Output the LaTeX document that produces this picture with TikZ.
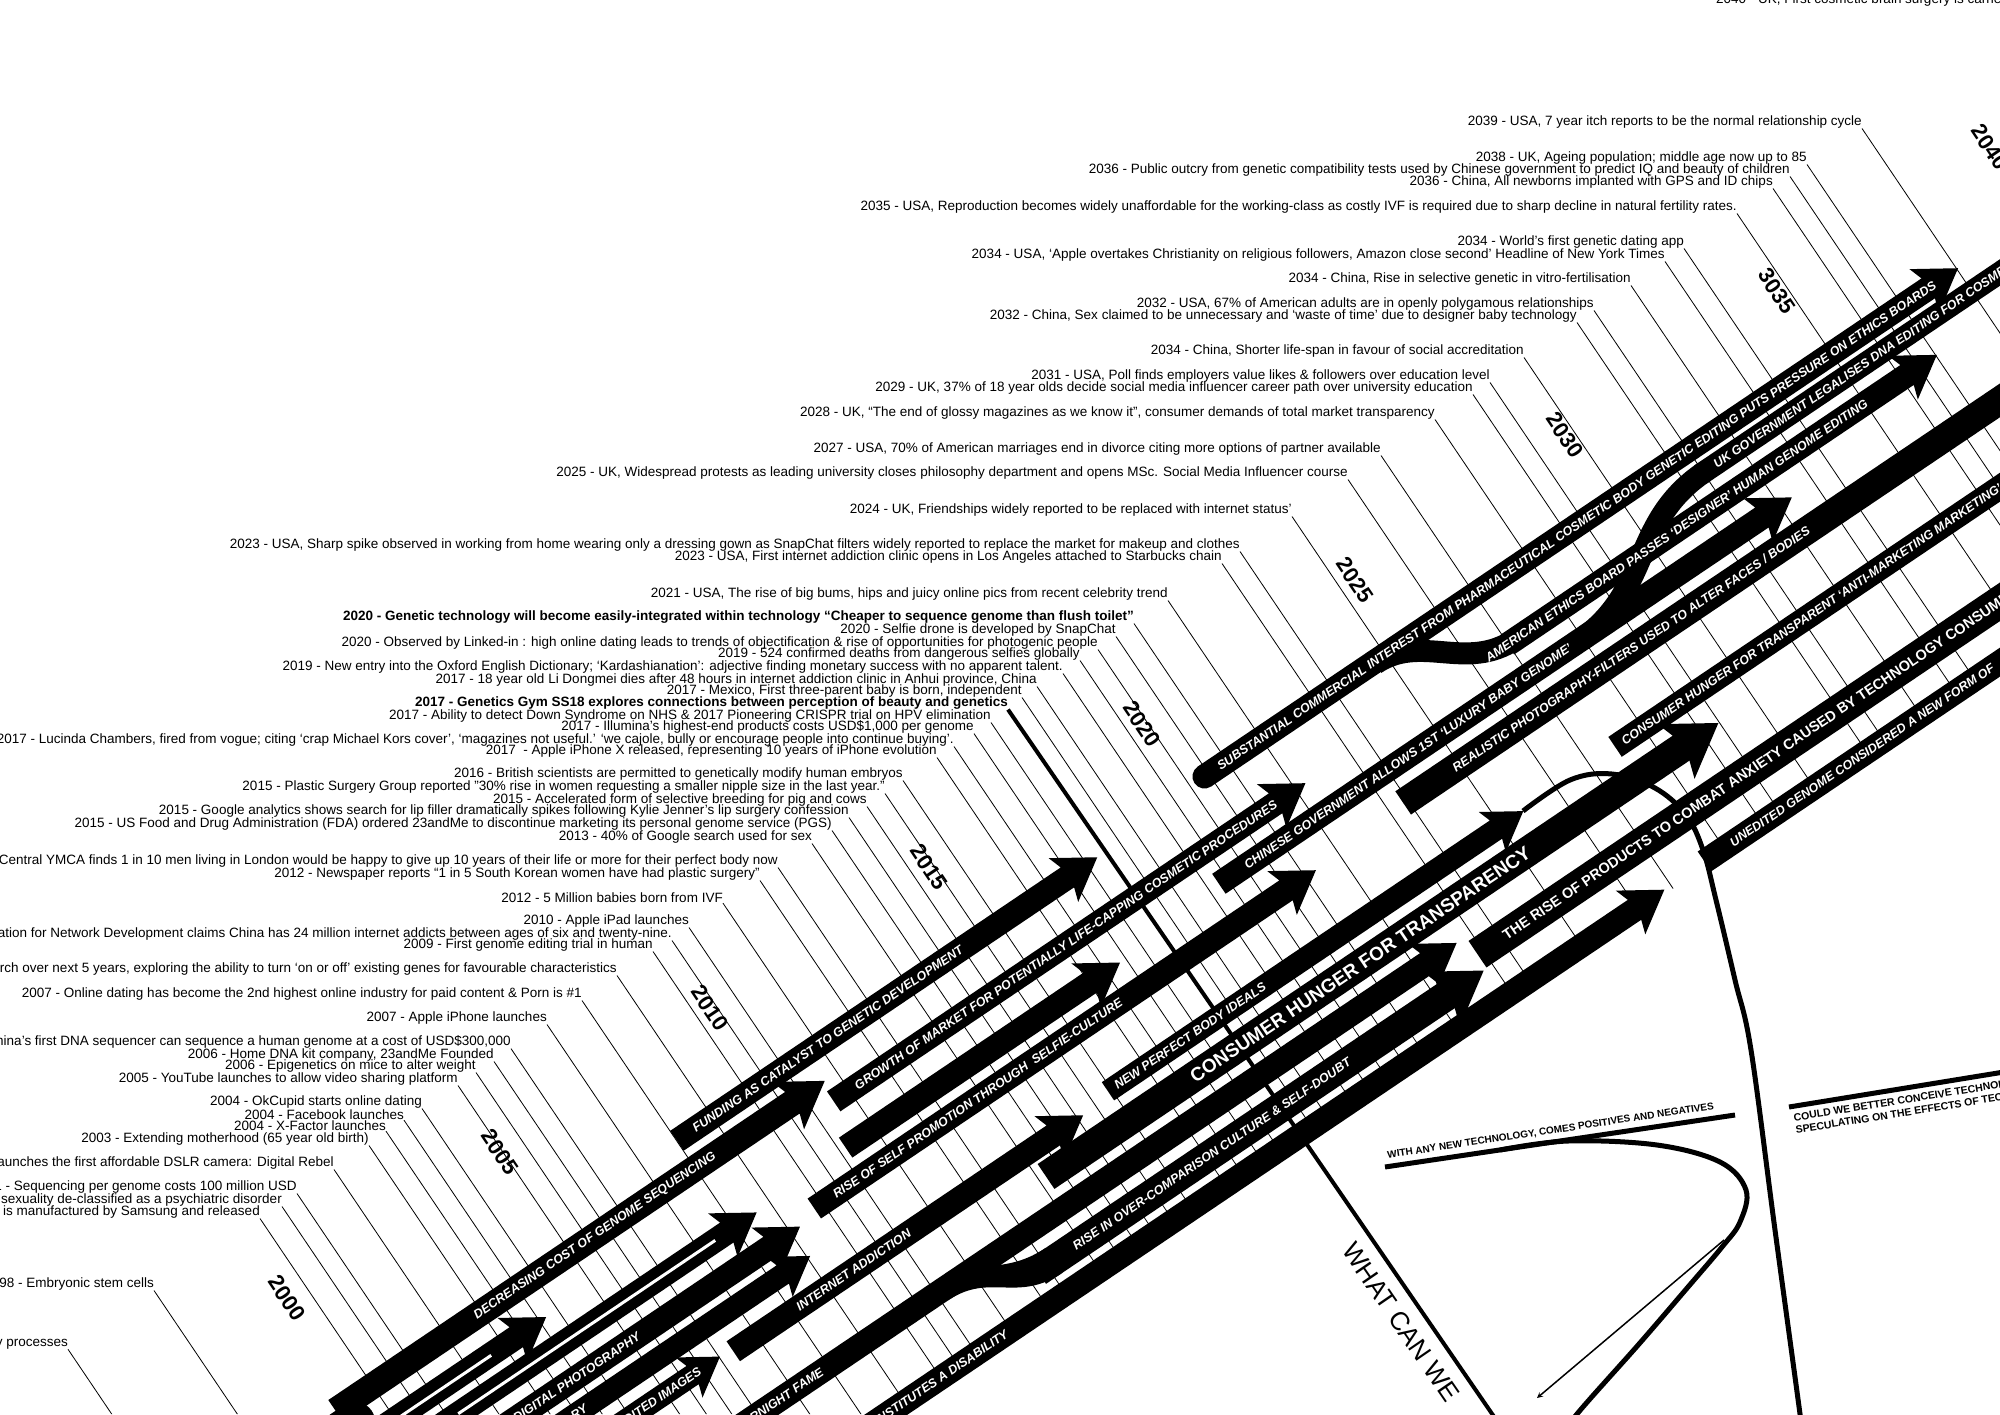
\documentclass[tikz,border=0pt]{standalone}
\usepackage{fontspec}
\setmainfont{Liberation Sans}
\usetikzlibrary{arrows}

% band with arrow head: start, tip, lane, half width
\newcommand{\bandarrow}[4]{%
  \fill (#1,{#3-#4}) -- ({#2-3*#4},{#3-#4}) -- ({#2-3.4*#4},{#3-2.2*#4}) -- (#2,#3)
     -- ({#2-3.4*#4},{#3+2.2*#4}) -- ({#2-3*#4},{#3+#4}) -- (#1,{#3+#4}) -- cycle;}
% plain band: start, end, lane, half width
\newcommand{\bandbar}[4]{\fill (#1,{#3-#4}) rectangle (#2,{#3+#4});}

\begin{document}
\begin{tikzpicture}[x=1pt, y=1pt,
  ev/.style={anchor=east, inner sep=0pt, font=\fontsize{13.5}{14}\selectfont},
  evb/.style={ev, font=\bfseries\fontsize{13.5}{14}\selectfont},
  lead/.style={line width=0.8pt},
  yr/.style={rotate=-56, inner sep=0pt, font=\bfseries\fontsize{22}{22}\selectfont},
  blab/.style={transform shape, text=white, inner sep=0pt, font=\bfseries\itshape\fontsize{12.5}{12.5}\selectfont},
  midblab/.style={blab, font=\bfseries\fontsize{14.5}{14.5}\selectfont},
  bigblab/.style={blab, font=\bfseries\fontsize{19}{19}\selectfont},
  stripe/.style={white, line width=3},
  caps/.style={inner sep=0pt, font=\bfseries\fontsize{10.5}{12.5}\selectfont}]
\path[use as bounding box, fill=white] (0,-1414) rectangle (2000,0);

\node[ev, anchor=base west] (ev00) at (1716,-3) {2040 - UK, First cosmetic brain surgery is carried out};

% timeline of events
\begin{scope}
\clip (0,0) -- (2000,0) -- (2000,-668) -- (894,-1414) -- (0,-1414) -- cycle;
\node[ev] (ev01) at (1862,-122) {2039 - USA, 7 year itch reports to be the normal relationship cycle};
\draw[lead] (ev01.south east) -- ++(-56:1500);
\node[ev] (ev02) at (1807,-158) {2038 - UK, Ageing population; middle age now up to 85};
\draw[lead] (ev02.south east) -- ++(-56:1500);
\node[ev] (ev03) at (1790,-170) {2036 - Public outcry from genetic compatibility tests used by Chinese government to predict IQ and beauty of children};
\draw[lead] (ev03.south east) -- ++(-56:1500);
\node[ev] (ev04) at (1773,-182) {2036 - China, All newborns implanted with GPS and ID chips};
\draw[lead] (ev04.south east) -- ++(-56:1500);
\node[ev] (ev05) at (1737,-207) {2035 - USA, Reproduction becomes widely unaffordable for the working-class as costly IVF is required due to sharp decline in natural fertility rates.};
\draw[lead] (ev05.south east) -- ++(-56:1500);
\node[ev] (ev06) at (1684,-242) {2034 - World’s first genetic dating app};
\draw[lead] (ev06.south east) -- ++(-56:1500);
\node[ev] (ev07) at (1665,-255) {2034 - USA, ‘Apple overtakes Christianity on religious followers, Amazon close second’ Headline of New York Times};
\draw[lead] (ev07.south east) -- ++(-56:1500);
\node[ev] (ev08) at (1631,-279) {2034 - China, Rise in selective genetic in vitro-fertilisation};
\draw[lead] (ev08.south east) -- ++(-56:1500);
\node[ev] (ev09) at (1594,-304) {2032 - USA, 67\% of American adults are in openly polygamous relationships};
\draw[lead] (ev09.south east) -- ++(-56:1500);
\node[ev] (ev10) at (1577,-316) {2032 - China, Sex claimed to be unnecessary and ‘waste of time’ due to designer baby technology};
\draw[lead] (ev10.south east) -- ++(-56:1500);
\node[ev] (ev11) at (1524,-351) {2034 - China, Shorter life-span in favour of social accreditation};
\draw[lead] (ev11.south east) -- ++(-56:1500);
\node[ev] (ev12) at (1490,-376) {2031 - USA, Poll finds employers value likes \& followers over education level};
\draw[lead] (ev12.south east) -- ++(-56:1500);
\node[ev] (ev13) at (1473,-388) {2029 - UK, 37\% of 18 year olds decide social media influencer career path over university education};
\draw[lead] (ev13.south east) -- ++(-56:1500);
\node[ev] (ev14) at (1435,-413) {2028 - UK, “The end of glossy magazines as we know it”, consumer demands of total market transparency};
\draw[lead] (ev14.south east) -- ++(-56:1500);
\node[ev] (ev15) at (1381,-449) {2027 - USA, 70\% of American marriages end in divorce citing more options of partner available};
\draw[lead] (ev15.south east) -- ++(-56:1500);
\node[ev] (ev16) at (1348,-473) {2025 - UK, Widespread protests as leading university closes philosophy department and opens MSc. Social Media Influencer course};
\draw[lead] (ev16.south east) -- ++(-56:1500);
\node[ev] (ev17) at (1292,-510) {2024 - UK, Friendships widely reported to be replaced with internet status’};
\draw[lead] (ev17.south east) -- ++(-56:1500);
\node[ev] (ev18) at (1240,-545) {2023 - USA, Sharp spike observed in working from home wearing only a dressing gown as SnapChat filters widely reported to replace the market for makeup and clothes};
\draw[lead] (ev18.south east) -- ++(-56:1500);
\node[ev] (ev19) at (1222,-557) {2023 - USA, First internet addiction clinic opens in Los Angeles attached to Starbucks chain};
\draw[lead] (ev19.south east) -- ++(-56:1500);
\node[ev] (ev20) at (1168,-594) {2021 - USA, The rise of big bums, hips and juicy online pics from recent celebrity trend};
\draw[lead] (ev20.south east) -- ++(-56:1500);
\node[evb] (ev21) at (1134,-617) {2020 - Genetic technology will become easily-integrated within technology “Cheaper to sequence genome than flush toilet”};
\draw[lead] (ev21.south east) -- ++(-56:1500);
\node[ev] (ev22) at (1116,-630) {2020 - Selfie drone is developed by SnapChat};
\draw[lead] (ev22.south east) -- ++(-56:1500);
\node[ev] (ev23) at (1098,-643) {2020 - Observed by Linked-in : high online dating leads to trends of objectification \& rise of opportunities for photogenic people};
\draw[lead] (ev23.south east) -- ++(-56:1500);
\node[ev] (ev24) at (1080,-654) {2019 - 524 confirmed deaths from dangerous selfies globally};
\draw[lead] (ev24.south east) -- ++(-56:1500);
\node[ev] (ev25) at (1063,-667) {2019 - New entry into the Oxford English Dictionary; ‘Kardashianation’: adjective finding monetary success with no apparent talent.};
\draw[lead] (ev25.south east) -- ++(-56:1500);
\node[ev] (ev26) at (1037,-680) {2017 - 18 year old Li Dongmei dies after 48 hours in internet addiction clinic in Anhui province, China};
\draw[lead] (ev26.south east) -- ++(-56:1500);
\node[ev] (ev27) at (1022,-691) {2017 - Mexico, First three-parent baby is born, independent};
\draw[lead] (ev27.south east) -- ++(-56:1500);
\node[evb] (ev28) at (1008,-703) {2017 - Genetics Gym SS18 explores connections between perception of beauty and genetics};
\node[ev] (ev29) at (991,-716) {2017 - Ability to detect Down Syndrome on NHS \& 2017 Pioneering CRISPR trial on HPV elimination};
\draw[lead] (ev29.south east) -- ++(-56:1500);
\node[ev] (ev30) at (974,-727) {2017 - Illumina’s highest-end products costs USD\$1,000 per genome};
\draw[lead] (ev30.south east) -- ++(-56:1500);
\node[ev] (ev31) at (954,-740) {2017 - Lucinda Chambers, fired from vogue; citing ‘crap Michael Kors cover’, ‘magazines not useful.’ ‘we cajole, bully or encourage people into continue buying’.};
\draw[lead] (ev31.south east) -- ++(-56:1500);
\node[ev] (ev32) at (937,-751) {2017\ \ - Apple iPhone X released, representing 10 years of iPhone evolution};
\draw[lead] (ev32.south east) -- ++(-56:1500);
\node[ev] (ev33) at (903,-774) {2016 - British scientists are permitted to genetically modify human embryos};
\draw[lead] (ev33.south east) -- ++(-56:1500);
\node[ev] (ev34) at (885,-787) {2015 - Plastic Surgery Group reported "30\% rise in women requesting a smaller nipple size in the last year."};
\draw[lead] (ev34.south east) -- ++(-56:1500);
\node[ev] (ev35) at (867,-800) {2015 - Accelerated form of selective breeding for pig and cows};
\draw[lead] (ev35.south east) -- ++(-56:1500);
\node[ev] (ev36) at (849,-811) {2015 - Google analytics shows search for lip filler dramatically spikes following Kylie Jenner’s lip surgery confession};
\draw[lead] (ev36.south east) -- ++(-56:1500);
\node[ev] (ev37) at (832,-824) {2015 - US Food and Drug Administration (FDA) ordered 23andMe to discontinue marketing its personal genome service (PGS)};
\draw[lead] (ev37.south east) -- ++(-56:1500);
\node[ev] (ev38) at (812,-837) {2013 - 40\% of Google search used for sex};
\draw[lead] (ev38.south east) -- ++(-56:1500);
\node[ev] (ev39) at (778,-861) {Central YMCA finds 1 in 10 men living in London would be happy to give up 10 years of their life or more for their perfect body now};
\draw[lead] (ev39.south east) -- ++(-56:1500);
\node[ev] (ev40) at (760,-874) {2012 - Newspaper reports “1 in 5 South Korean women have had plastic surgery”};
\draw[lead] (ev40.south east) -- ++(-56:1500);
\node[ev] (ev41) at (723,-898) {2012 - 5 Million babies born from IVF};
\draw[lead] (ev41.south east) -- ++(-56:1500);
\node[ev] (ev42) at (689,-921) {2010 - Apple iPad launches};
\draw[lead] (ev42.south east) -- ++(-56:1500);
\node[ev] (ev43) at (672,-934) {ation for Network Development claims China has 24 million internet addicts between ages of six and twenty-nine.};
\draw[lead] (ev43.south east) -- ++(-56:1500);
\node[ev] (ev44) at (653,-945) {2009 - First genome editing trial in human};
\draw[lead] (ev44.south east) -- ++(-56:1500);
\node[ev] (ev45) at (617,-969) {arch over next 5 years, exploring the ability to turn ‘on or off’ existing genes for favourable characteristics};
\draw[lead] (ev45.south east) -- ++(-56:1500);
\node[ev] (ev46) at (582,-994) {2007 - Online dating has become the 2nd highest online industry for paid content \& Porn is \#1};
\draw[lead] (ev46.south east) -- ++(-56:1500);
\node[ev] (ev47) at (547,-1018) {2007 - Apple iPhone launches};
\draw[lead] (ev47.south east) -- ++(-56:1500);
\node[ev] (ev48) at (511,-1042) {hina’s first DNA sequencer can sequence a human genome at a cost of USD\$300,000};
\draw[lead] (ev48.south east) -- ++(-56:1500);
\node[ev] (ev49) at (494,-1055) {2006 - Home DNA kit company, 23andMe Founded};
\draw[lead] (ev49.south east) -- ++(-56:1500);
\node[ev] (ev50) at (476,-1066) {2006 - Epigenetics on mice to alter weight};
\draw[lead] (ev50.south east) -- ++(-56:1500);
\node[ev] (ev51) at (458,-1079) {2005 - YouTube launches to allow video sharing platform};
\draw[lead] (ev51.south east) -- ++(-56:1500);
\node[ev] (ev52) at (422,-1102) {2004 - OkCupid starts online dating};
\draw[lead] (ev52.south east) -- ++(-56:1500);
\node[ev] (ev53) at (404,-1115) {2004 - Facebook launches};
\draw[lead] (ev53.south east) -- ++(-56:1500);
\node[ev] (ev54) at (386,-1126) {2004 - X-Factor launches};
\draw[lead] (ev54.south east) -- ++(-56:1500);
\node[ev] (ev55) at (369,-1139) {2003 - Extending motherhood (65 year old birth)};
\draw[lead] (ev55.south east) -- ++(-56:1500);
\node[ev] (ev56) at (334,-1163) {aunches the first affordable DSLR camera: Digital Rebel};
\draw[lead] (ev56.south east) -- ++(-56:1500);
\node[ev] (ev57) at (297,-1187) {1 - Sequencing per genome costs 100 million USD};
\draw[lead] (ev57.south east) -- ++(-56:1500);
\node[ev] (ev58) at (282,-1200) {sexuality de-classified as a psychiatric disorder};
\draw[lead] (ev58.south east) -- ++(-56:1500);
\node[ev] (ev59) at (260,-1212) {is manufactured by Samsung and released};
\draw[lead] (ev59.south east) -- ++(-56:1500);
\node[ev] (ev60) at (154,-1284) {98 - Embryonic stem cells};
\draw[lead] (ev60.south east) -- ++(-56:1500);
\node[ev] (ev61) at (68,-1344) {y processes};
\draw[lead] (ev61.south east) -- ++(-56:1500);
\end{scope}

% years
\node[yr] (y2000) at (287,-1298) {2000};
\node[yr] (y2005) at (500,-1152) {2005};
\node[yr] (y2010) at (710,-1008) {2010};
\node[yr] (y2015) at (929,-867) {2015};
\node[yr] (y2020) at (1142,-724) {2020};
\node[yr] (y2025) at (1355,-580) {2025};
\node[yr] (y2030) at (1565,-435) {2030};
\node[yr] (y3035) at (1777,-291) {3035};
\node[yr] (y2040) at (1990,-147) {2040};

% genetics gym line
\draw[line width=4] (ev28.south east) -- ++(-55.5:900);

% curve out of the body ideals arrow
\draw[line width=5] plot[smooth, tension=0.6] coordinates {(1523,-811) (1570,-780) (1612,-774) (1655,-788) (1686,-815) (1703,-850) (1716,-900) (1735,-980) (1751,-1050) (1775,-1230) (1800,-1414) (1803,-1440)};

% bands, in the frame of the timeline
\begin{scope}[shift={(0,-1414)}, rotate=34]
\fill (1355,-145) circle (12);
\bandarrow{1355}{2264}{-145}{12}
\draw[line width=22] (1560,-147) .. controls (1615,-147) and (1630,-205) .. (1690,-205);
\bandarrow{1680}{2198}{-205}{12}
\bandarrow{714}{1221}{-152}{12}
\draw[line width=40, line cap=round] (150,-205) -- (290,-205);
\bandarrow{280}{870}{-185}{13}
\bandbar{1935}{2600}{-172}{11}
\draw[line width=22] (1740,-242) .. controls (1830,-242) and (1850,-172) .. (1940,-172);
\bandarrow{866}{1435}{-207}{12}
\bandarrow{250}{507}{-225}{12}
\draw[stripe] (330,-226) -- (440,-226);
\bandarrow{300}{740}{-256}{12}
\draw[stripe] (380,-256) -- (690,-256);
\bandarrow{850}{1181}{-252}{12}
\bandarrow{1307}{1998}{-242}{12}
\bandarrow{350}{768}{-292}{12}
\bandarrow{790}{1395}{-285}{12}
\bandbar{1505}{2600}{-278}{14}
\bandarrow{380}{760}{-322}{11}
\bandarrow{450}{629}{-355}{11}
\bandarrow{643}{1065}{-358}{12}
\bandarrow{1099}{1600}{-352}{11}
\bandbar{1712}{2600}{-350}{12}
\bandarrow{1000}{1811}{-388}{15}
\bandarrow{500}{1471}{-424}{12}
\fill (850,-436) .. controls (900,-436) and (905,-477) .. (960,-477) -- (960,-447) .. controls (930,-447) and (915,-436) .. (900,-430) -- cycle;
\bandarrow{940}{1478}{-462}{15}
\bandbar{1482}{2600}{-445}{16}
\bandarrow{650}{1673}{-496}{12}
\bandbar{1722}{2600}{-495}{12}

\node[blab] (lDecr) at (593,-185) {DECREASING COST OF GENOME SEQUENCING};
\node[blab] (lFund) at (896,-152) {FUNDING AS CATALYST TO GENETIC DEVELOPMENT};
\node[blab, anchor=east] (lDig) at (574,-292) {DIGITAL PHOTOGRAPHY};
\node[blab, anchor=east] (lRy) at (490,-322) {RY};
\node[blab, anchor=east] (lEdit) at (605,-355) {EDITED IMAGES};
\node[blab] (lNet) at (788,-358) {INTERNET ADDICTION};
\node[blab, anchor=east] (lFame) at (706,-424) {OVERNIGHT FAME};
\node[blab] (lComp) at (1150,-462) {RISE IN OVER-COMPARISON CULTURE \& SELF-DOUBT};
\node[blab, anchor=east] (lDis) at (880,-496) {CONSTITUTES A DISABILITY};
\node[blab] (lGrow) at (1146,-207) {GROWTH OF MARKET FOR POTENTIALLY LIFE-CAPPING COSMETIC PROCEDURES};
\node[blab] (lSelf) at (987,-285) {RISE OF SELF PROMOTION THROUGH\ \ SELFIE-CULTURE};
\node[blab] (lBody) at (1198,-352) {NEW PERFECT BODY IDEALS};
\node[bigblab] (lHung) at (1379,-388) {CONSUMER HUNGER FOR TRANSPARENCY};
\node[blab] (lChin) at (1535,-242) {CHINESE GOVERNMENT ALLOWS 1ST ‘LUXURY BABY GENOME’};
\node[blab, anchor=west] (lUk) at (1952,-172) {UK GOVERNMENT LEGALISES DNA EDITING FOR COSMETIC};
\node[blab] (lSubs) at (1804,-145) {SUBSTANTIAL COMMERCIAL INTEREST FROM PHARMACEUTICAL COSMETIC BODY GENETIC EDITING PUTS PRESSURE ON ETHICS BOARDS};
\node[blab] (lAmer) at (1884,-205) {AMERICAN ETHICS BOARD PASSES ‘DESIGNER’ HUMAN GENOME EDITING};
\node[blab] (lReal) at (1780,-278) {REALISTIC PHOTOGRAPHY-FILTERS USED TO ALTER FACES / BODIES};
\node[blab, anchor=west] (lTrans) at (1721,-350) {CONSUMER HUNGER FOR TRANSPARENT ‘ANTI-MARKETING MARKETING’};
\node[midblab, anchor=west] (lProd) at (1514,-445) {THE RISE OF PRODUCTS TO COMBAT ANXIETY CAUSED BY TECHNOLOGY CONSUMPTION};
\node[blab, anchor=west] (lUned) at (1754,-495) {UNEDITED GENOME CONSIDERED A NEW FORM OF};
\end{scope}

% positives and negatives
\draw[line width=5] (1385,-1167) -- (1735,-1115);
\node[caps, rotate=8.5, anchor=south west, font=\bfseries\fontsize{10}{10}\selectfont] (wtech) at (1388,-1160) {WITH ANY NEW TECHNOLOGY, COMES POSITIVES AND NEGATIVES};
\draw[line width=5] plot[smooth, tension=0.6] coordinates {(1500,-1150) (1568,-1141) (1657,-1145) (1720,-1162) (1746,-1190) (1740,-1222) (1722,-1247) (1688,-1287) (1639,-1344) (1577,-1414) (1560,-1440)};
\draw[line width=1.5, -stealth] (1724,-1240) -- (1537,-1398);

\draw[line width=5] (1789,-1107) -- (2010,-1071);
\node[caps, rotate=9.2, anchor=north west, align=left] (could) at (1793,-1114) {COULD WE BETTER CONCEIVE TECHNOLOGY\\SPECULATING ON THE EFFECTS OF TECHNOLOGY};

\node[rotate=-55.5, anchor=north west, inner sep=0pt, font=\fontsize{26}{26}\selectfont] (whatwe) at (1356,-1240) {WHAT CAN WE};
\end{tikzpicture}
\end{document}
